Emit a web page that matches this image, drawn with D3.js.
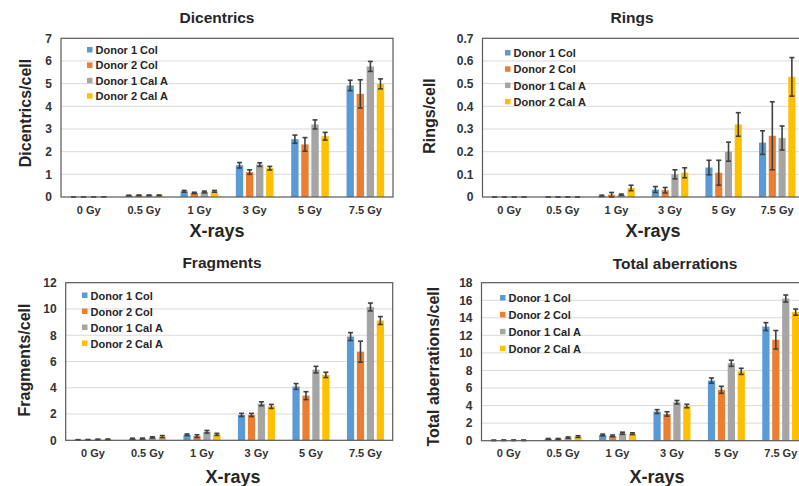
<!DOCTYPE html>
<html>
<head>
<meta charset="utf-8">
<script src="https://cdn.jsdelivr.net/npm/d3@7"></script>
<style>
  body { margin: 0; background: #fff; }
  svg { display: block; font-family: "Liberation Sans", Arial, sans-serif; font-weight: bold; }
</style>
</head>
<body>
<div id="chart"></div>
<script>
const doses = ["0 Gy", "0.5 Gy", "1 Gy", "3 Gy", "5 Gy", "7.5 Gy"];
const series = ["Donor 1 Col", "Donor 2 Col", "Donor 1 Cal A", "Donor 2 Cal A"];
const colors = ["#5b9bd5", "#ed7d31", "#a5a5a5", "#ffc000"];

// one row per series, one column per dose
const dicentrics = [
  [0.01, 0.06, 0.25, 1.4, 2.55, 4.92],
  [0.01, 0.07, 0.18, 1.1, 2.32, 4.55],
  [0.01, 0.07, 0.22, 1.43, 3.2, 5.76],
  [0.01, 0.07, 0.25, 1.27, 2.68, 4.99]
];
const dicentricsErr = [
  [0, 0.02, 0.04, 0.12, 0.18, 0.23],
  [0, 0.02, 0.03, 0.1, 0.3, 0.62],
  [0, 0.02, 0.04, 0.08, 0.2, 0.22],
  [0, 0.02, 0.04, 0.08, 0.17, 0.22]
];
const rings = [
  [0, 0, 0.005, 0.033, 0.13, 0.24],
  [0, 0, 0.01, 0.03, 0.107, 0.27],
  [0, 0, 0.01, 0.1, 0.2, 0.26],
  [0, 0, 0.04, 0.107, 0.32, 0.53]
];
const ringsErr = [
  [0, 0, 0.003, 0.013, 0.032, 0.052],
  [0, 0, 0.01, 0.012, 0.055, 0.15],
  [0, 0, 0.003, 0.02, 0.042, 0.053],
  [0, 0, 0.012, 0.022, 0.052, 0.085]
];
const fragments = [
  [0.03, 0.12, 0.42, 1.93, 4.1, 7.9],
  [0.04, 0.13, 0.32, 1.93, 3.4, 6.75],
  [0.06, 0.22, 0.65, 2.78, 5.38, 10.15],
  [0.07, 0.28, 0.45, 2.58, 4.98, 9.12]
];
const fragmentsErr = [
  [0.02, 0.04, 0.06, 0.12, 0.22, 0.3],
  [0.02, 0.04, 0.1, 0.12, 0.3, 0.8],
  [0.03, 0.05, 0.1, 0.15, 0.25, 0.3],
  [0.03, 0.08, 0.08, 0.15, 0.2, 0.3]
];
const total = [
  [0.04, 0.2, 0.65, 3.32, 6.85, 13.0],
  [0.05, 0.2, 0.55, 3.05, 5.8, 11.5],
  [0.05, 0.35, 0.85, 4.38, 8.82, 16.2],
  [0.05, 0.47, 0.8, 3.95, 7.9, 14.65]
];
const totalErr = [
  [0.03, 0.05, 0.1, 0.22, 0.3, 0.45],
  [0.03, 0.05, 0.1, 0.25, 0.4, 1.05],
  [0.03, 0.08, 0.12, 0.2, 0.35, 0.4],
  [0.03, 0.1, 0.1, 0.2, 0.35, 0.35]
];

const yTicksDic = [0, 1, 2, 3, 4, 5, 6, 7];
const yTicksRings = [0, 0.1, 0.2, 0.3, 0.4, 0.5, 0.6, 0.7];
const yTicksFrag = [0, 2, 4, 6, 8, 10, 12];
const yTicksTotal = [0, 2, 4, 6, 8, 10, 12, 14, 16, 18];

const W = 799, H = 486;
const svg = d3.select("#chart").append("svg").attr("width", W).attr("height", H);

// layout of each panel (plot area box, label positions)
const panels = [
  { title: "Dicentrics", ylab: "Dicentrics/cell", vals: dicentrics, errs: dicentricsErr, ticks: yTicksDic,
    x0: 61, x1: 393, y0: 38.3, y1: 197, titleX: 217, titleY: 23, ylabX: 31, ylabY: 113,
    xlabX: 217, xlabY: 237, legX: 87, legY: 50, legStep: 15.4, fmt: d => d },
  { title: "Rings", ylab: "Rings/cell", vals: rings, errs: ringsErr, ticks: yTicksRings,
    x0: 482.5, x1: 804, y0: 38.3, y1: 197, titleX: 632, titleY: 23, ylabX: 435, ylabY: 116,
    xlabX: 653, xlabY: 237, legX: 505, legY: 53, legStep: 16.3, fmt: d => d === 0 ? "0" : d3.format(".1f")(d) },
  { title: "Fragments", ylab: "Fragments/cell", vals: fragments, errs: fragmentsErr, ticks: yTicksFrag,
    x0: 65.7, x1: 392.7, y0: 282.7, y1: 440.3, titleX: 222, titleY: 268, ylabX: 29.5, ylabY: 360,
    xlabX: 233, xlabY: 482.5, legX: 82, legY: 295.5, legStep: 16, fmt: d => d },
  { title: "Total aberrations", ylab: "Total aberrations/cell", vals: total, errs: totalErr, ticks: yTicksTotal,
    x0: 481.5, x1: 808, y0: 282.7, y1: 440.7, titleX: 675, titleY: 269, ylabX: 439, ylabY: 366.7,
    xlabX: 657, xlabY: 482.5, legX: 500, legY: 298, legStep: 16.9, fmt: d => d }
];

panels.forEach(p => {
  const g = svg.append("g");
  const x = d3.scaleBand().domain(doses).range([p.x0, p.x1]).paddingInner(0.32).paddingOuter(0.16);
  const xs = d3.scaleBand().domain(d3.range(series.length)).range([0, x.bandwidth()]).paddingInner(0.27);
  const yMax = p.ticks[p.ticks.length - 1];
  const y = d3.scaleLinear().domain([0, yMax]).range([p.y1, p.y0]);

  // gridlines
  g.append("g").selectAll("line").data(p.ticks.slice(1, -1)).join("line")
    .attr("x1", p.x0).attr("x2", p.x1)
    .attr("y1", d => y(d)).attr("y2", d => y(d))
    .attr("stroke", "#d9d9d9").attr("stroke-width", 1);

  // bars
  const rows = [];
  p.vals.forEach((row, s) => row.forEach((v, i) => rows.push({ s, dose: doses[i], v, e: p.errs[s][i] })));
  g.append("g").selectAll("rect").data(rows).join("rect")
    .attr("x", d => x(d.dose) + xs(d.s))
    .attr("width", xs.bandwidth())
    .attr("y", d => y(d.v))
    .attr("height", d => y(0) - y(d.v))
    .attr("fill", d => colors[d.s]);

  // error bars
  const eb = g.append("g").attr("stroke", "#404040").attr("stroke-width", 1.6);
  rows.forEach(d => {
    const cx = x(d.dose) + xs(d.s) + xs.bandwidth() / 2;
    const hi = y(d.v + d.e), lo = y(Math.max(0, d.v - d.e));
    eb.append("line").attr("x1", cx).attr("x2", cx).attr("y1", hi).attr("y2", lo);
    eb.append("line").attr("x1", cx - 2.5).attr("x2", cx + 2.5).attr("y1", hi).attr("y2", hi);
    eb.append("line").attr("x1", cx - 2.5).attr("x2", cx + 2.5).attr("y1", lo).attr("y2", lo);
  });

  // plot border
  g.append("rect").attr("x", p.x0).attr("y", p.y0)
    .attr("width", p.x1 - p.x0).attr("height", p.y1 - p.y0)
    .attr("fill", "none").attr("stroke", "#595959").attr("stroke-width", 1.2);

  // y tick labels
  const yAxis = g.append("g").attr("transform", `translate(${p.x0},0)`)
    .call(d3.axisLeft(y).tickValues(p.ticks).tickFormat(p.fmt).tickSize(0).tickPadding(9));
  yAxis.select(".domain").remove();
  yAxis.selectAll("text").attr("font-size", 12).attr("font-family", null).attr("fill", "#333");

  // x tick labels
  const xAxis = g.append("g").attr("transform", `translate(0,${p.y1})`)
    .call(d3.axisBottom(x).tickSize(0).tickPadding(9));
  xAxis.select(".domain").remove();
  xAxis.selectAll("text").attr("font-size", 11).attr("font-family", null).attr("fill", "#333");

  // titles
  g.append("text").attr("x", p.titleX).attr("y", p.titleY).attr("text-anchor", "middle")
    .attr("font-size", 15.5).attr("fill", "#262626").text(p.title);
  g.append("text").attr("x", p.xlabX).attr("y", p.xlabY).attr("text-anchor", "middle")
    .attr("font-size", 18).attr("fill", "#262626").text("X-rays");
  g.append("text").attr("transform", `translate(${p.ylabX},${p.ylabY}) rotate(-90)`)
    .attr("text-anchor", "middle").attr("font-size", 16).attr("fill", "#262626").text(p.ylab);

  // legend
  const leg = g.append("g").selectAll("g").data(series).join("g")
    .attr("transform", (d, i) => `translate(${p.legX},${p.legY + i * p.legStep})`);
  leg.append("rect").attr("x", 0).attr("y", -3).attr("width", 5.5).attr("height", 5.5)
    .attr("fill", (d, i) => colors[i]);
  leg.append("text").attr("x", 8.5).attr("y", 4).attr("font-size", 11).attr("fill", "#262626").text(d => d);
});
</script>
</body>
</html>
